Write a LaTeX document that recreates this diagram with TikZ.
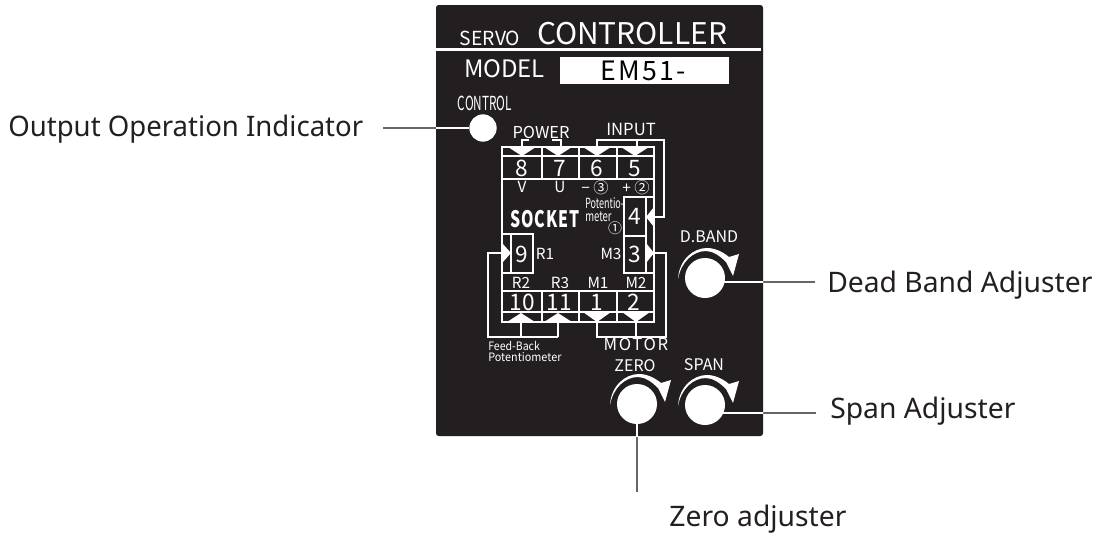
\documentclass[tikz,border=0pt]{standalone}
\usepackage{fontspec}
\setmainfont{Noto Sans}
\newfontfamily\panelfont{Noto Sans CJK JP}
\newcommand{\px}[1]{\fontsize{#1}{#1}\selectfont}
\newcommand{\thin}[2]{\scalebox{#1}[1]{#2}}
\definecolor{panelblack}{HTML}{231F20}
\definecolor{leadergray}{HTML}{666666}
\tikzset{
  panel/.style={inner sep=0pt,text=white,font=\panelfont},
  digit/.style={panel,font=\panelfont\px{17}},
  pin/.style={panel,font=\panelfont\px{11.5}},
  tiny/.style={panel,font=\panelfont\px{10.5}},
  small/.style={panel,font=\panelfont\px{8.7}},
  callout/.style={inner sep=0pt,text=panelblack,font=\px{21.2}},
  wire/.style={draw=white,line width=1.1pt},
  leader/.style={leadergray,line width=1.5pt},
  knob/.style={circle,fill=white,inner sep=0pt},
  turn/.pic={\fill[white](-27,1)..controls(-26,-18)and(-12,-30)..(2,-30)..controls(10,-30)and(18,-26)..(24,-21)--(34,-24)--(28,-2)--(21,-16)..controls(15,-22)and(8,-27)..(1,-27)..controls(-12,-27)and(-24,-16)..cycle;}
}
\begin{document}
\begin{tikzpicture}[x=0.75pt,y=-0.75pt]
\useasboundingbox(0,0)rectangle(1099,536);
\fill[panelblack,rounded corners=2pt](436,5)rectangle(763,436);
\fill[white](436,47.5)rectangle(761,50.5);
\fill[white](560,57)rectangle(729,84);
\node[panel,font=\panelfont\px{14.5}](servo)at(490,38){SERVO};
\node[panel,font=\panelfont\px{22.4}](controller)at(632,34){CONTROLLER};
\node[panel,font=\panelfont\px{18}](model)at(504.5,69){MODEL};
\node[panel,text=black,font=\panelfont\px{20}\addfontfeature{LetterSpace=8}](emtype)at(643,71){EM51-};
\node[panel,font=\panelfont\px{14.5}](control)at(485,103){\thin{.61}{CONTROL}};
\node[knob,minimum size=20.5pt](lamp)at(483,128){};
\node[panel,font=\panelfont\px{12.3}](power)at(541,132.5){POWER};
\node[panel,font=\panelfont\px{12.5}](input)at(631,129){INPUT};
\draw[wire](502,147)rectangle(654,322);
\draw[wire](502,156)--(654,156)(502,179)--(654,179);
\draw[wire](542,147)--(542,179)(579,147)--(579,179)(617,147)--(617,179);
\draw[wire](502,291)--(654,291)(502,312)--(654,312);
\draw[wire](542,291)--(542,322)(579,291)--(579,322)(617,291)--(617,322);
\draw[wire](511,234)rectangle(533,273);
\draw[wire](502,234)--(511,234)(502,273)--(511,273);
\draw[wire](624,197)rectangle(646,273);
\draw[wire](624,236)--(646,236)(646,197)--(654,197)(646,273)--(654,273);
\draw[wire](522,147)--(522,140)--(529,140)(561,147)--(561,140)--(552,140);
\draw[wire](597,147)--(597,140)--(664,140)--(664,217)--(654,217)(637,147)--(637,140);
\draw[wire](654,253)--(666,253)--(666,337)--(597,337)--(597,322)(636,322)--(636,337);
\draw[wire](521,322)--(521,337)(558,322)--(558,337);
\draw[wire](558,337)--(488,337)--(488,253)--(502,253);
\fill[white](508,147)--(536,147)--(522,156)--cycle;
\fill[white](544,147)--(572,147)--(558,156)--cycle;
\fill[white](583,147)--(611,147)--(597,156)--cycle;
\fill[white](621,147)--(649,147)--(635,156)--cycle;
\fill[white](654,207)--(654,227)--(646,217)--cycle;
\fill[white](646,243)--(646,263)--(654,253)--cycle;
\fill[white](502,243)--(502,263)--(511,253)--cycle;
\fill[white](507,322)--(535,322)--(521,313)--cycle;
\fill[white](544,322)--(572,322)--(558,313)--cycle;
\fill[white](583,312)--(611,312)--(597,322)--cycle;
\fill[white](622,312)--(650,312)--(636,322)--cycle;
\node[digit](pineight)at(522,168.5){8};
\node[digit](pinseven)at(560,168.5){7};
\node[digit](pinsix)at(597,168.5){6};
\node[digit](pinfive)at(635,168.5){5};
\node[digit](pinfour)at(635,216.5){4};
\node[digit](pinthree)at(635,254.5){3};
\node[digit](pinnine)at(522,254.5){9};
\node[digit](pinten)at(522,302.5){10};
\node[digit](pineleven)at(559,302.5){11};
\node[digit](pinone)at(597,302.5){1};
\node[digit](pintwo)at(634,302.5){2};
\node[pin](tagv)at(522,187){V};
\node[pin](tagu)at(560,187){U};
\node[pin](tagminus)at(595,187.5){− ③};
\node[pin](tagplus)at(636,187.5){+ ②};
\node[pin](tagrone)at(545,254){R1};
\node[pin](tagmthree)at(611,254){M3};
\node[pin](tagrtwo)at(521,283){R2};
\node[pin](tagrthree)at(560,283){R3};
\node[pin](tagmone)at(598,283){M1};
\node[pin](tagmtwo)at(636,283){M2};
\node[panel,font=\panelfont\bfseries\px{17}\addfontfeature{LetterSpace=5}](socket)at(545,219){\thin{.7}{SOCKET}};
\node[tiny,anchor=west](potentio)at(585,203){\thin{.64}{Potentio-}};
\node[tiny,anchor=west](meter)at(585,217){\thin{.68}{meter}};
\node[tiny](circone)at(615,228){①};
\node[small,anchor=west](feedback)at(488,346){\thin{.91}{Feed-Back}};
\node[small,anchor=west](fbpot)at(488,357){\thin{.935}{Potentiometer}};
\node[panel,font=\panelfont\px{12.5}\addfontfeature{LetterSpace=10}](motor)at(636,344){MOTOR};
\node[panel,font=\panelfont\px{12}](zerotag)at(635,366){ZERO};
\node[panel,font=\panelfont\px{12}](spantag)at(704,365){SPAN};
\node[panel,font=\panelfont\px{12}](dbandtag)at(709,237){D.BAND};
\node[knob,minimum size=30pt](dband)at(705,278){};
\node[knob,minimum size=30pt](zero)at(637,404){};
\node[knob,minimum size=30pt](span)at(705,405){};
\pic at(705,278){turn};
\pic at(637,404){turn};
\pic at(705,405){turn};
\node[callout,anchor=west](outlabel)at(8,129.5){\thin{.975}{Output Operation Indicator}};
\node[callout,anchor=west](dblabel)at(827,285){Dead Band Adjuster};
\node[callout,anchor=west](splabel)at(830,411){Span Adjuster};
\node[callout](zrlabel)at(758,519){Zero adjuster};
\coordinate(outend)at(383,128);
\coordinate(dbend)at(815,282);
\coordinate(spend)at(816,413);
\coordinate(zrend)at(637,492);
\draw[leader](outend)--(lamp.west);
\draw[leader](dbend)--(705,282);
\draw[leader](spend)--(705,413);
\draw[leader](zrend)--(zero.south);
\begin{scope}
\clip(436,5)rectangle(763,436);
\draw[white,line width=1.2pt](outend)--(lamp.west);
\draw[white,line width=1.2pt](dbend)--(705,282);
\draw[white,line width=1.2pt](spend)--(705,413);
\draw[white,line width=1.2pt](zrend)--(zero.south);
\end{scope}
\end{tikzpicture}
\end{document}
